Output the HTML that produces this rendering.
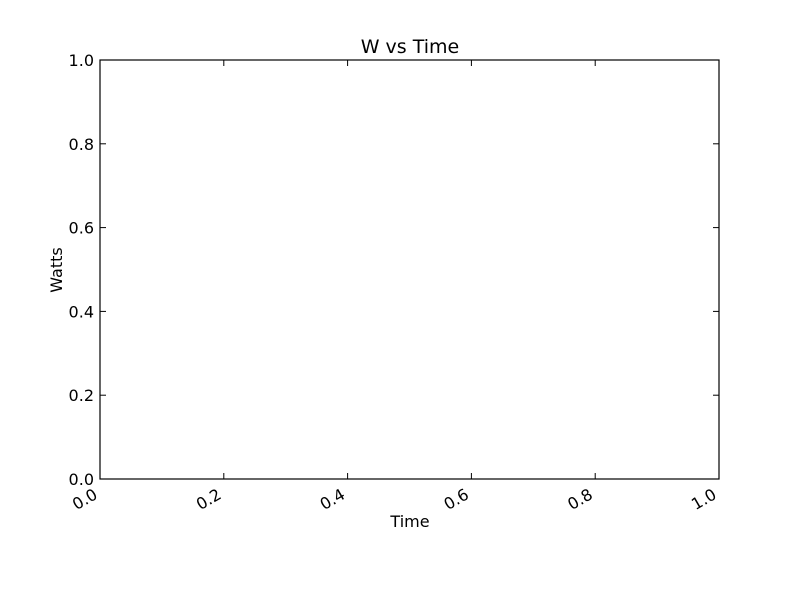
<!DOCTYPE html>
<html><head><meta charset="utf-8"><style>
html,body{margin:0;padding:0;background:#fff;}
svg{display:block;font-family:"DejaVu Sans","Liberation Sans",sans-serif;}
</style></head><body>
<svg id="chart" width="800" height="600">
<rect x="0" y="0" width="800" height="600" fill="#fff"/>
<text x="410" y="53" font-size="19" text-anchor="middle">W vs Time</text>
<text x="410" y="527" font-size="16" text-anchor="middle">Time</text>
<text transform="translate(62,270) rotate(-90)" font-size="16" text-anchor="middle">Watts</text>
<g id="ticks"></g>
<rect x="100" y="60" width="619" height="419" fill="none" stroke="#000" stroke-width="1.2"/>
</svg>
<script>
const xTicks=[0,0.2,0.4,0.6,0.8,1.0];
const yTicks=[0,0.2,0.4,0.6,0.8,1.0];
const xTickLabels=["0.0","0.2","0.4","0.6","0.8","1.0"];
const yTickLabels=["0.0","0.2","0.4","0.6","0.8","1.0"];
const L=100,R=719,T=60,B=479;
const xs=v=>L+(v-0)/(1-0)*(R-L);
const ys=v=>B-(v-0)/(1-0)*(B-T);
const g=document.getElementById('ticks');
const NS="http://www.w3.org/2000/svg";
function line(x1,y1,x2,y2){const l=document.createElementNS(NS,'line');l.setAttribute('x1',x1);l.setAttribute('y1',y1);l.setAttribute('x2',x2);l.setAttribute('y2',y2);l.setAttribute('stroke','#000');l.setAttribute('stroke-width','1');g.appendChild(l);return l;}
xTicks.forEach((v,i)=>{const x=xs(v);
 let a=line(x,B,x,B-6);
 
 
 let b=line(x,T,x,T+6);
 
 
 const t=document.createElementNS(NS,'text');
 t.setAttribute('font-size','16');t.setAttribute('text-anchor','end');
 t.setAttribute('transform',`translate(${x-7},${B+9}) rotate(-30)`);
 t.setAttribute('dy','0.7em');
 t.textContent=xTickLabels[i];
 
 
 g.appendChild(t);});
yTicks.forEach((v,i)=>{const y=ys(v);
 let a=line(L,y,L+6,y);
 
 
 let b=line(R,y,R-6,y);
 
 
 const t=document.createElementNS(NS,'text');
 t.setAttribute('font-size','16');t.setAttribute('text-anchor','end');
 t.setAttribute('x',L-6);t.setAttribute('y',y+6);
 t.textContent=yTickLabels[i];
 
 
 g.appendChild(t);});
</script>
</body></html>
